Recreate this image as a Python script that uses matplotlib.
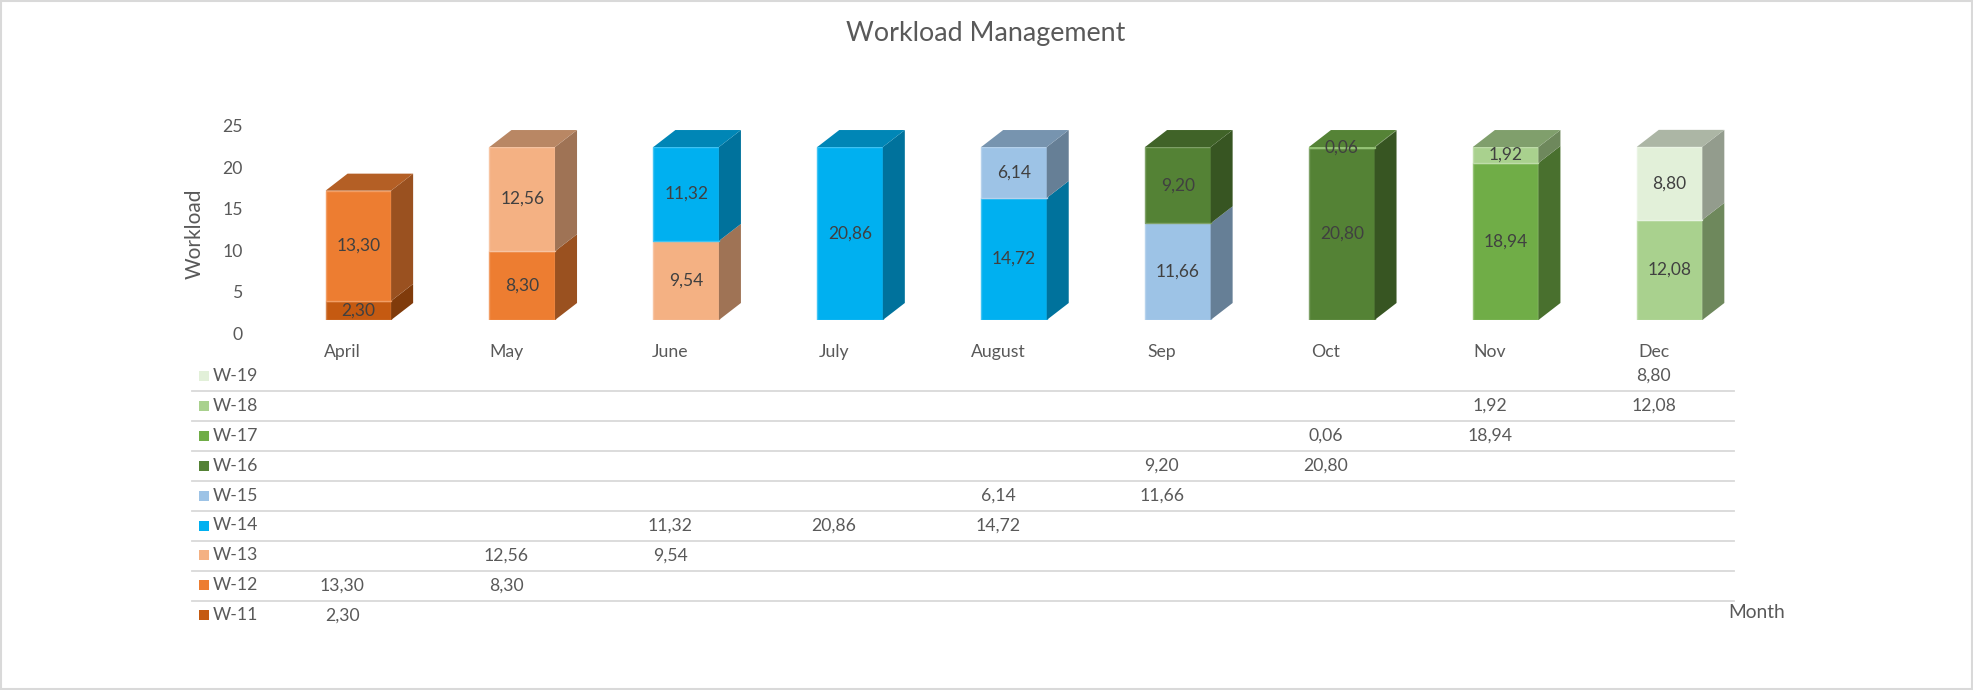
import matplotlib
matplotlib.use("Agg")
import matplotlib.pyplot as plt
import numpy as np
from matplotlib.patches import Polygon, Rectangle
from matplotlib.lines import Line2D
import matplotlib.transforms as mtransforms
import matplotlib.colors as mcolors

plt.rcParams['font.family'] = ['Lato', 'DejaVu Sans']

nan = np.nan
months = ["April", "May", "June", "July", "August", "Sep", "Oct", "Nov", "Dec"]
series_names = ["W-11", "W-12", "W-13", "W-14", "W-15", "W-16", "W-17", "W-18", "W-19"]
w11 = [2.30, nan, nan, nan, nan, nan, nan, nan, nan]
w12 = [13.30, 8.30, nan, nan, nan, nan, nan, nan, nan]
w13 = [nan, 12.56, 9.54, nan, nan, nan, nan, nan, nan]
w14 = [nan, nan, 11.32, 20.86, 14.72, nan, nan, nan, nan]
w15 = [nan, nan, nan, nan, 6.14, 11.66, nan, nan, nan]
w16 = [nan, nan, nan, nan, nan, 9.20, 20.80, nan, nan]
w17 = [nan, nan, nan, nan, nan, nan, 0.06, 18.94, nan]
w18 = [nan, nan, nan, nan, nan, nan, nan, 1.92, 12.08]
w19 = [nan, nan, nan, nan, nan, nan, nan, nan, 8.80]
series_vals = [w11, w12, w13, w14, w15, w16, w17, w18, w19]
colors = ["#C55A11", "#ED7D31", "#F4B183", "#00B0F0", "#9DC3E6",
          "#548235", "#70AD47", "#A9D18E", "#E2F0D9"]
yticks = [0, 5, 10, 15, 20, 25]

TXT = "#595959"
W, H = 1973, 690
fig = plt.figure(figsize=(W / 100, H / 100), dpi=100)

def fx(px):
    return px / W

def fy(py):
    return (H - py) / H

# front plane of the bars (pixel geometry)
left, right, base, top25 = 276.4, 1751.5, 320, 112.7
ax = fig.add_axes([fx(left), fy(base), fx(right - left), (base - top25) / H])
ax.set_xlim(-0.5, 8.5)
ax.set_ylim(0, 25)
ax.axis("off")

# back wall axis, shifted like the 3D projection (holds tick labels)
sx, sy = -16, 13
wall = fig.add_axes([fx(left + sx), fy(base + sy), fx(right - left), (base - top25) / H])
wall.set_xlim(-0.5, 8.5)
wall.set_ylim(0, 25)
wall.patch.set_alpha(0)
for s in wall.spines.values():
    s.set_visible(False)
wall.set_yticks(yticks)
wall.set_xticks(range(len(months)))
wall.set_xticklabels(months)
wall.tick_params(axis="y", length=0, pad=12.5, labelsize=12.7, labelcolor=TXT)
wall.tick_params(axis="x", length=0, pad=8, labelsize=12.7, labelcolor=TXT)

# depth of the 3D boxes in data units
p0 = ax.transData.transform((0, 0))
p1 = ax.transData.transform((1, 1))
dx = 22 / (p1[0] - p0[0])
dy = 17 / (p1[1] - p0[1])

def shade(c, f):
    r, g, b = mcolors.to_rgb(c)
    return (r * f, g * f, b * f)

def lighten(c, f):
    r, g, b = mcolors.to_rgb(c)
    return (r + (1 - r) * f, g + (1 - g) * f, b + (1 - b) * f)

bw = 0.4
x = np.arange(len(months))
cum = np.zeros(len(months))
tops = np.array([max(i for i, v in enumerate([s[j] for s in series_vals]) if not np.isnan(v))
                 for j in range(len(months))])
for k, (vals, c) in enumerate(zip(series_vals, colors)):
    v = np.array(vals, dtype=float)
    ok = ~np.isnan(v)
    ax.bar(x[ok], v[ok], bottom=cum[ok], width=bw, color=c,
           edgecolor=lighten(c, 0.25), linewidth=1, zorder=3)
    for j in np.where(ok)[0]:
        b, h = cum[j], v[j]
        xr = x[j] + bw / 2
        xl = x[j] - bw / 2
        ax.add_patch(Polygon([(xr, b), (xr + dx, b + dy), (xr + dx, b + h + dy), (xr, b + h)],
                             closed=True, facecolor=shade(c, 0.65), edgecolor="none", zorder=3))
        if tops[j] == k:
            t = b + h
            ax.add_patch(Polygon([(xl, t), (xr, t), (xr + dx, t + dy), (xl + dx, t + dy)],
                                 closed=True, facecolor=shade(c, 0.76), edgecolor="none", zorder=3))
        ax.text(x[j], b + h / 2, f"{h:.2f}".replace(".", ","), ha="center", va="center",
                fontsize=12.5, color="#404040", zorder=5)
    cum[ok] += v[ok]

# title and axis titles
fig.text(fx(986), fy(34), "Workload Management", ha="center", va="center",
         fontsize=19.4, color=TXT)
fig.text(fx(195), fy(234), "Workload", ha="center", va="center", rotation=90,
         fontsize=15, color=TXT)
fig.text(fx(1757), fy(613), "Month", ha="center", va="center", fontsize=13.8, color=TXT)

# data table
col_tr = mtransforms.blended_transform_factory(wall.transData, fig.transFigure)
for r, k in enumerate(range(len(series_names) - 1, -1, -1)):
    yc = 376 + 29.9 * r
    fig.patches.append(Rectangle((fx(199), fy(yc + 5)), fx(10), 10 / H, transform=fig.transFigure,
                                 facecolor=colors[k], edgecolor="none", figure=fig))
    fig.text(fx(213), fy(yc), series_names[k], ha="left", va="center", fontsize=12.7, color=TXT)
    for j, v in enumerate(series_vals[k]):
        if not np.isnan(v):
            fig.text(j, fy(yc), f"{v:.2f}".replace(".", ","), transform=col_tr,
                     ha="center", va="center", fontsize=12.7, color=TXT)
    if r < len(series_names) - 1:
        ly = fy(yc + 15.2)
        fig.lines.append(Line2D([fx(192), fx(1734)], [ly, ly], transform=fig.transFigure,
                                color="#D9D9D9", linewidth=1.3, figure=fig))

# chart border
fig.patches.append(Rectangle((fx(1), fy(689)), fx(1971), 688 / H, transform=fig.transFigure,
                             facecolor="none", edgecolor="#D9D9D9", linewidth=1.5, figure=fig))

fig.savefig("out.png", dpi=100)
